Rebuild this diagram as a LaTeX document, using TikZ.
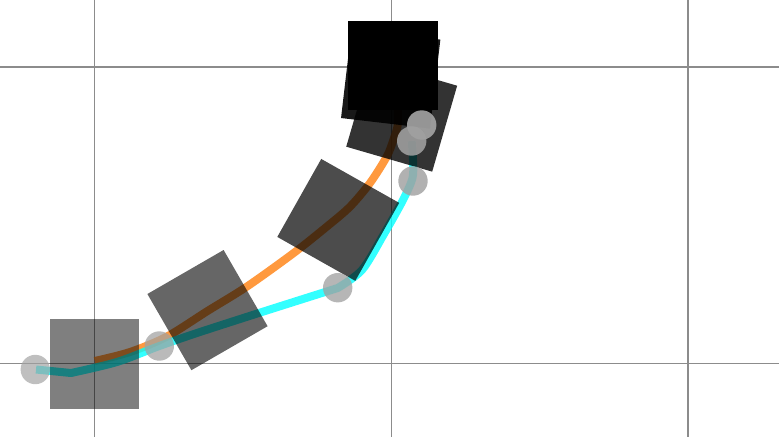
\documentclass[tikz,border=0pt]{standalone}
\definecolor{taborange}{HTML}{FF7F0E}
\definecolor{aqua}{rgb}{0,1,1}
\definecolor{gridgray}{gray}{0.55}
\definecolor{markgray}{gray}{0.63}
\begin{document}
\begin{tikzpicture}[x=1pt,y=-1pt,
  gridline/.style={draw=gridgray,line width=1.1pt},
  orangepath/.style={draw=taborange,draw opacity=0.8,line width=8pt,line join=round},
  cyanpath/.style={draw=aqua,draw opacity=0.8,line width=8pt,line join=round},
  posebox/.style={fill=black,fill opacity=#1},
  marker/.style={fill=markgray,fill opacity=#1}]
\useasboundingbox (0,0) rectangle (779,437);
% grid
\draw[gridline] (94.7,0) -- (94.7,437);
\draw[gridline] (391.3,0) -- (391.3,437);
\draw[gridline] (688,0) -- (688,437);
\draw[gridline] (0,67) -- (779,67);
\draw[gridline] (0,363.3) -- (779,363.3);
% trajectories
\draw[orangepath] plot[smooth,tension=0.5] coordinates {(94.7,361) (130,352) (166.7,336.7) (207.5,311) (246.7,286.7) (293.3,253.3) (326.7,226.7) (350,206.7) (370,183) (386.7,156.7) (393.3,140) (398,123) (397,95) (393.3,65.3)};
\draw[cyanpath] (36,369.5) -- (71,373) -- plot[smooth,tension=0.5] coordinates {(71,373) (117,362) (159.3,346) (200,332) (262,312) (337.7,288)} -- plot[smooth,tension=0.5] coordinates {(337.7,288) (362,270) (384,234) (403,200) (412.5,178) (413,160) (411.7,141)};
% poses
\fill[posebox=0.5,shift={(94.7,363.8)},rotate=0] (-44.75,-44.75) rectangle (44.75,44.75);
\fill[posebox=0.6,shift={(207.5,310.1)},rotate=30] (-44,-44) rectangle (44,44);
\fill[posebox=0.7,shift={(338.25,219.9)},rotate=60.6] (-44.75,-44.75) rectangle (44.75,44.75);
\fill[posebox=0.8,shift={(401.7,116.2)},rotate=73.8] (-44.75,-44.75) rectangle (44.75,44.75);
\fill[posebox=0.9,shift={(390.7,78.8)},rotate=83.3] (-44.75,-44.75) rectangle (44.75,44.75);
\fill[posebox=1.0,shift={(393.3,65.3)},rotate=0] (-45,-44.7) rectangle (45,44.7);
% markers
\fill[marker=0.68] (35.3,369.5) circle[radius=14.7];
\fill[marker=0.73] (159.3,346) circle[radius=14.7];
\fill[marker=0.78] (337.7,287.7) circle[radius=14.7];
\fill[marker=0.83] (413,181) circle[radius=14.7];
\fill[marker=0.88] (411.7,141) circle[radius=14.7];
\fill[marker=0.93] (421.7,125) circle[radius=14.7];
\end{tikzpicture}
\end{document}
